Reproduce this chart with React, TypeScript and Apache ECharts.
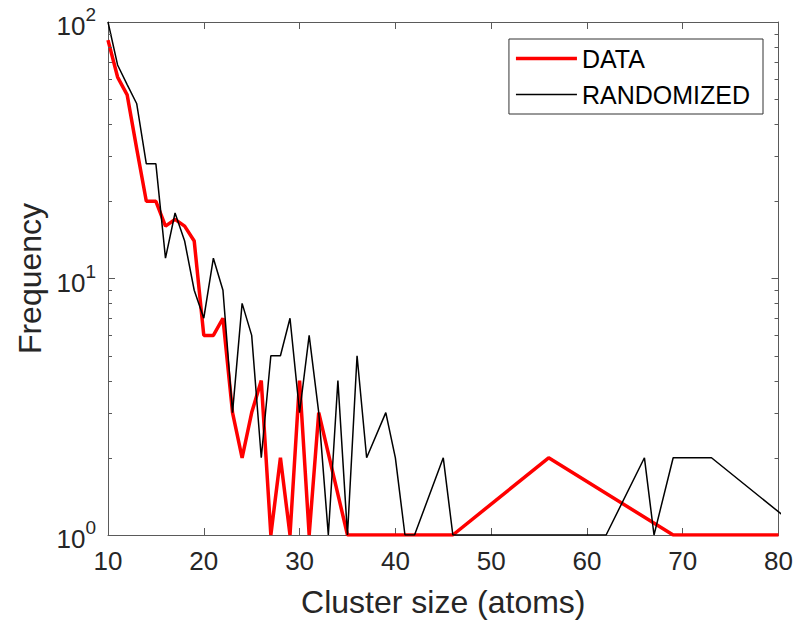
import React, { useEffect, useRef } from "react";
import * as echarts from "echarts";

const dataX = [10, 11, 12, 13, 14, 15, 16, 17, 18, 19, 20, 21, 22, 23, 24, 25, 26, 27, 28, 29, 30, 31, 32, 35, 46, 56, 69, 80];
const dataY = [85, 61, 52, 32, 20, 20, 16, 17, 16, 14, 6, 6, 7, 3, 2, 3, 4, 1, 2, 1, 4, 1, 3, 1, 1, 2, 1, 1];

const randX = [10, 11, 12, 13, 14, 15, 16, 17, 18, 19, 20, 21, 22, 23, 24, 25, 26, 27, 28, 29, 30, 31, 32, 33, 34, 35, 36, 37, 39, 40, 41, 42, 45, 46, 62, 66, 67, 69, 73, 83];
const randY = [100, 68, 57, 48, 28, 28, 12, 18, 14, 9, 7, 12, 9, 3, 8, 6, 2, 5, 5, 7, 3, 6, 3, 1, 4, 1, 5, 2, 3, 2, 1, 1, 2, 1, 1, 2, 1, 2, 2, 1];

const xTicks = [10, 20, 30, 40, 50, 60, 70, 80];
const yMinorTicks = [2, 3, 4, 5, 6, 7, 8, 9, 20, 30, 40, 50, 60, 70, 80, 90];

const seriesNames = ["DATA", "RANDOMIZED"];

const FONT = "Arial, 'Liberation Sans', Helvetica, sans-serif";
const AX = "#5a5a5a";
const TXT = "#262626";

export default function App() {
  const ref = useRef<HTMLDivElement>(null);
  useEffect(() => {
    if (!ref.current) return;
    const chart = echarts.init(ref.current, undefined, { renderer: "svg" });
    const xMin = xTicks[0];
    const xMax = xTicks[xTicks.length - 1];
    const option: any = {
      animation: false,
      backgroundColor: "#ffffff",
      textStyle: { fontFamily: FONT },
      grid: { left: 108, right: 17, top: 22, bottom: 93, containLabel: false },
      legend: {
        data: [
          { name: seriesNames[0], icon: "path://M0,0 H61 V3.5 H0 Z" },
          { name: seriesNames[1], icon: "path://M0,0 H61 V1.5 H0 Z" },
        ],
        orient: "vertical",
        right: 33,
        top: 39,
        padding: [7, 13, 7, 7],
        itemWidth: 61,
        itemHeight: 4,
        itemGap: 11,
        symbolKeepAspect: true,
        backgroundColor: "#ffffff",
        borderColor: "#333333",
        borderWidth: 1,
        textStyle: { fontSize: 25, color: "#000000", fontFamily: FONT, lineHeight: 25 },
        z: 10,
      },
      xAxis: [
        {
          type: "value",
          min: xMin,
          max: xMax,
          interval: 10,
          name: "Cluster size (atoms)",
          nameLocation: "middle",
          nameGap: 51,
          nameTextStyle: { fontSize: 32, color: TXT, fontFamily: FONT },
          axisLine: { show: true, lineStyle: { color: AX, width: 1 } },
          axisTick: { show: true, inside: true, length: 7, lineStyle: { color: AX } },
          axisLabel: { fontSize: 26, color: TXT, margin: 13, fontFamily: FONT },
          splitLine: { show: false },
        },
        {
          type: "value",
          position: "top",
          min: xMin,
          max: xMax,
          interval: 10,
          axisLine: { show: true, lineStyle: { color: AX, width: 1 } },
          axisTick: { show: true, inside: true, length: 7, lineStyle: { color: AX } },
          axisLabel: { show: false },
          splitLine: { show: false },
        },
      ],
      yAxis: [
        {
          type: "log",
          logBase: 10,
          min: 1,
          max: 100,
          name: "Frequency",
          nameLocation: "middle",
          nameGap: 62,
          nameTextStyle: { fontSize: 32, color: TXT, fontFamily: FONT },
          axisLine: { show: true, lineStyle: { color: AX, width: 1 } },
          axisTick: { show: true, inside: true, length: 7, lineStyle: { color: AX } },
          axisLabel: {
            margin: 12,
            color: TXT,
            formatter: (v: number) => "{b|10}{s|" + Math.round(Math.log10(v)) + "}",
            rich: {
              b: { fontSize: 26, color: TXT, fontFamily: FONT, verticalAlign: "bottom", lineHeight: 34 },
              s: { fontSize: 19, color: TXT, fontFamily: FONT, verticalAlign: "top", lineHeight: 34 },
            },
          },
          splitLine: { show: false },
        },
        {
          type: "log",
          logBase: 10,
          min: 1,
          max: 100,
          position: "right",
          axisLine: { show: true, lineStyle: { color: AX, width: 1 } },
          axisTick: { show: true, inside: true, length: 7, lineStyle: { color: AX } },
          axisLabel: { show: false },
          splitLine: { show: false },
        },
      ],
      series: [
        {
          name: seriesNames[0],
          type: "line",
          data: dataX.map((x, i) => [x, dataY[i]]),
          showSymbol: false,
          symbol: "none",
          lineStyle: { color: "#ff0000", width: 3.5 },
          itemStyle: { color: "#ff0000" },
          xAxisIndex: 0,
          yAxisIndex: 0,
          z: 2,
        },
        {
          name: seriesNames[1],
          type: "line",
          data: randX.map((x, i) => [x, randY[i]]),
          showSymbol: false,
          symbol: "none",
          lineStyle: { color: "#000000", width: 1.5 },
          itemStyle: { color: "#000000" },
          xAxisIndex: 0,
          yAxisIndex: 0,
          z: 3,
        },
        {
          type: "custom",
          coordinateSystem: "cartesian2d",
          xAxisIndex: 0,
          yAxisIndex: 0,
          silent: true,
          clip: false,
          z: 4,
          data: yMinorTicks.map((v) => [xMin, v]),
          encode: { x: 0, y: 1 },
          renderItem: (_p: any, api: any) => {
            const v = api.value(1);
            const l = api.coord([xMin, v]);
            const r = api.coord([xMax, v]);
            const y = Math.round(l[1]) + 0.5;
            return {
              type: "group",
              children: [
                { type: "line", shape: { x1: l[0], y1: y, x2: l[0] + 4, y2: y }, style: { stroke: AX, lineWidth: 1 } },
                { type: "line", shape: { x1: r[0] - 4, y1: y, x2: r[0], y2: y }, style: { stroke: AX, lineWidth: 1 } },
              ],
            };
          },
        },
      ],
    };
    chart.setOption(option);
    return () => chart.dispose();
  }, []);
  return (
    <div
      ref={ref}
      style={{ position: "fixed", left: 0, top: 0, width: 796, height: 628, background: "#fff" }}
    />
  );
}
